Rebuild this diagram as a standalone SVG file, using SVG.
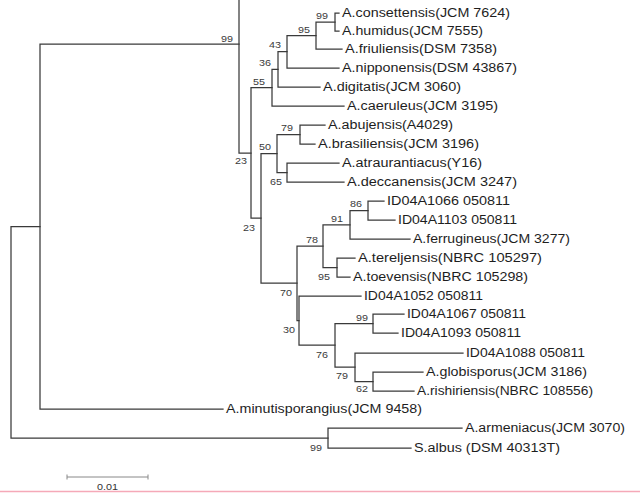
<svg xmlns="http://www.w3.org/2000/svg" width="640" height="493" viewBox="0 0 640 493">
<style>
.br{fill:none;stroke:#3a3a3a;stroke-width:1.25;stroke-linecap:square}
.lf{font-family:"Liberation Sans",Arial,sans-serif;font-size:12px;fill:#1e1e1e}
.bs{font-family:"Liberation Sans",Arial,sans-serif;font-size:8.5px;fill:#3a3a3a;text-anchor:end}
.sc{fill:none;stroke:#888;stroke-width:1}
</style>
<rect width="640" height="493" fill="#fff"/>
<g id="connectors" class="br">
<path d="M11 226.5V438M11 226.5H40M11 438H328"/>
<path d="M40 44V409M40 44H239M40 409H223"/>
<path d="M239 0V153M239 153H251"/>
<path d="M251 87.7V218M251 87.7H272M251 218H261"/>
<path d="M272 69.4V106M272 69.4H278M272 106H344"/>
<path d="M278 51.7V87M278 51.7H287M278 87H320"/>
<path d="M287 35.5V68M287 35.5H316M287 68H339"/>
<path d="M316 22V49M316 22H335M316 49H342"/>
<path d="M335 13V31M335 13H339M335 31H339"/>
<path d="M261 153.5V283M261 153.5H277M261 283H297"/>
<path d="M277 134.5V172.5M277 134.5H300M277 172.5H287"/>
<path d="M300 125V144M300 125H325M300 144H315"/>
<path d="M287 163V182M287 163H339M287 182H344"/>
<path d="M297 246V320.5M297 246H323M297 320.5H299"/>
<path d="M323 224.75V267.5M323 224.75H350M323 267.5H337"/>
<path d="M350 210.5V239M350 210.5H368M350 239H410"/>
<path d="M368 201V220M368 201H384M368 220H395"/>
<path d="M337 258V277M337 258H355M337 277H350"/>
<path d="M299 296V345M299 296H361M299 345H335"/>
<path d="M335 323.5V367M335 323.5H373M335 367H355"/>
<path d="M373 314V333M373 314H404M373 333H398"/>
<path d="M355 353V381.5M355 353H463M355 381.5H373"/>
<path d="M373 372V391M373 372H423M373 391H414"/>
<path d="M328 428V448M328 428H462M328 448H411"/>
</g>
<g id="leaves" class="lf">
<g id="consettensis"><text x="342" y="17" textLength="168" lengthAdjust="spacingAndGlyphs">A.consettensis(JCM 7624)</text></g>
<g id="humidus"><text x="342" y="35" textLength="141" lengthAdjust="spacingAndGlyphs">A.humidus(JCM 7555)</text></g>
<g id="friuliensis"><text x="345" y="53" textLength="152" lengthAdjust="spacingAndGlyphs">A.friuliensis(DSM 7358)</text></g>
<g id="nipponensis"><text x="342" y="72" textLength="175" lengthAdjust="spacingAndGlyphs">A.nipponensis(DSM 43867)</text></g>
<g id="digitatis"><text x="323" y="91" textLength="138" lengthAdjust="spacingAndGlyphs">A.digitatis(JCM 3060)</text></g>
<g id="caeruleus"><text x="347" y="110" textLength="151" lengthAdjust="spacingAndGlyphs">A.caeruleus(JCM 3195)</text></g>
<g id="abujensis"><text x="328" y="129" textLength="125" lengthAdjust="spacingAndGlyphs">A.abujensis(A4029)</text></g>
<g id="brasiliensis"><text x="318" y="148" textLength="161" lengthAdjust="spacingAndGlyphs">A.brasiliensis(JCM 3196)</text></g>
<g id="atraurantiacus"><text x="342" y="167" textLength="140" lengthAdjust="spacingAndGlyphs">A.atraurantiacus(Y16)</text></g>
<g id="deccanensis"><text x="347" y="186" textLength="170" lengthAdjust="spacingAndGlyphs">A.deccanensis(JCM 3247)</text></g>
<g id="ID04A1066"><text x="387" y="205" textLength="123" lengthAdjust="spacingAndGlyphs">ID04A1066 050811</text></g>
<g id="ID04A1103"><text x="398" y="224" textLength="119" lengthAdjust="spacingAndGlyphs">ID04A1103 050811</text></g>
<g id="ferrugineus"><text x="413" y="243" textLength="157" lengthAdjust="spacingAndGlyphs">A.ferrugineus(JCM 3277)</text></g>
<g id="tereljensis"><text x="358" y="262" textLength="184" lengthAdjust="spacingAndGlyphs">A.tereljensis(NBRC 105297)</text></g>
<g id="toevensis"><text x="353" y="281" textLength="175" lengthAdjust="spacingAndGlyphs">A.toevensis(NBRC 105298)</text></g>
<g id="ID04A1052"><text x="364" y="300" textLength="119" lengthAdjust="spacingAndGlyphs">ID04A1052 050811</text></g>
<g id="ID04A1067"><text x="407" y="318" textLength="119" lengthAdjust="spacingAndGlyphs">ID04A1067 050811</text></g>
<g id="ID04A1093"><text x="401" y="337" textLength="120" lengthAdjust="spacingAndGlyphs">ID04A1093 050811</text></g>
<g id="ID04A1088"><text x="466" y="357" textLength="119" lengthAdjust="spacingAndGlyphs">ID04A1088 050811</text></g>
<g id="globisporus"><text x="426" y="376" textLength="161" lengthAdjust="spacingAndGlyphs">A.globisporus(JCM 3186)</text></g>
<g id="rishiriensis"><text x="417" y="395" textLength="176" lengthAdjust="spacingAndGlyphs">A.rishiriensis(NBRC 108556)</text></g>
<g id="minutisporangius"><text x="226" y="413" textLength="196" lengthAdjust="spacingAndGlyphs">A.minutisporangius(JCM 9458)</text></g>
<g id="armeniacus"><text x="465" y="432" textLength="160" lengthAdjust="spacingAndGlyphs">A.armeniacus(JCM 3070)</text></g>
<g id="albus"><text x="414" y="452" textLength="146" lengthAdjust="spacingAndGlyphs">S.albus (DSM 40313T)</text></g>
</g>
<g id="bootstrap" class="bs">
<g id="n_top"><text x="233" y="42" textLength="12" lengthAdjust="spacingAndGlyphs">99</text></g>
<g id="n_cons"><text x="328" y="19" textLength="12" lengthAdjust="spacingAndGlyphs">99</text></g>
<g id="n_friu"><text x="310" y="33" textLength="12" lengthAdjust="spacingAndGlyphs">95</text></g>
<g id="n_nipp"><text x="281" y="48" textLength="12" lengthAdjust="spacingAndGlyphs">43</text></g>
<g id="n_digi"><text x="271" y="66" textLength="12" lengthAdjust="spacingAndGlyphs">36</text></g>
<g id="n_caer"><text x="265" y="85" textLength="12" lengthAdjust="spacingAndGlyphs">55</text></g>
<g id="n_abuj"><text x="293" y="131" textLength="12" lengthAdjust="spacingAndGlyphs">79</text></g>
<g id="n_50"><text x="271" y="150" textLength="12" lengthAdjust="spacingAndGlyphs">50</text></g>
<g id="n_decc"><text x="282" y="185" textLength="12" lengthAdjust="spacingAndGlyphs">65</text></g>
<g id="n_23a"><text x="247" y="164" textLength="12" lengthAdjust="spacingAndGlyphs">23</text></g>
<g id="n_23b"><text x="255" y="231" textLength="12" lengthAdjust="spacingAndGlyphs">23</text></g>
<g id="n_86"><text x="362" y="207" textLength="12" lengthAdjust="spacingAndGlyphs">86</text></g>
<g id="n_91"><text x="343" y="222" textLength="12" lengthAdjust="spacingAndGlyphs">91</text></g>
<g id="n_78"><text x="318" y="243" textLength="12" lengthAdjust="spacingAndGlyphs">78</text></g>
<g id="n_95b"><text x="330" y="280" textLength="12" lengthAdjust="spacingAndGlyphs">95</text></g>
<g id="n_70"><text x="292" y="296" textLength="12" lengthAdjust="spacingAndGlyphs">70</text></g>
<g id="n_30"><text x="295" y="333" textLength="12" lengthAdjust="spacingAndGlyphs">30</text></g>
<g id="n_99c"><text x="368" y="321" textLength="12" lengthAdjust="spacingAndGlyphs">99</text></g>
<g id="n_76"><text x="328" y="358" textLength="12" lengthAdjust="spacingAndGlyphs">76</text></g>
<g id="n_79b"><text x="348" y="379" textLength="12" lengthAdjust="spacingAndGlyphs">79</text></g>
<g id="n_62"><text x="368" y="392" textLength="12" lengthAdjust="spacingAndGlyphs">62</text></g>
<g id="n_99d"><text x="322" y="451" textLength="12" lengthAdjust="spacingAndGlyphs">99</text></g>
</g>
<g id="scalebar">
<path class="sc" d="M67 477H148M67 474.5V479.5M148 474.5V479.5"/>
<text x="107.5" y="490" font-family="Liberation Sans, Arial, sans-serif" font-size="9" fill="#333" text-anchor="middle" textLength="21" lengthAdjust="spacingAndGlyphs">0.01</text>
</g>
<path d="M0 491.5H640" stroke="#f5a9b8" stroke-width="1.5"/>
</svg>
